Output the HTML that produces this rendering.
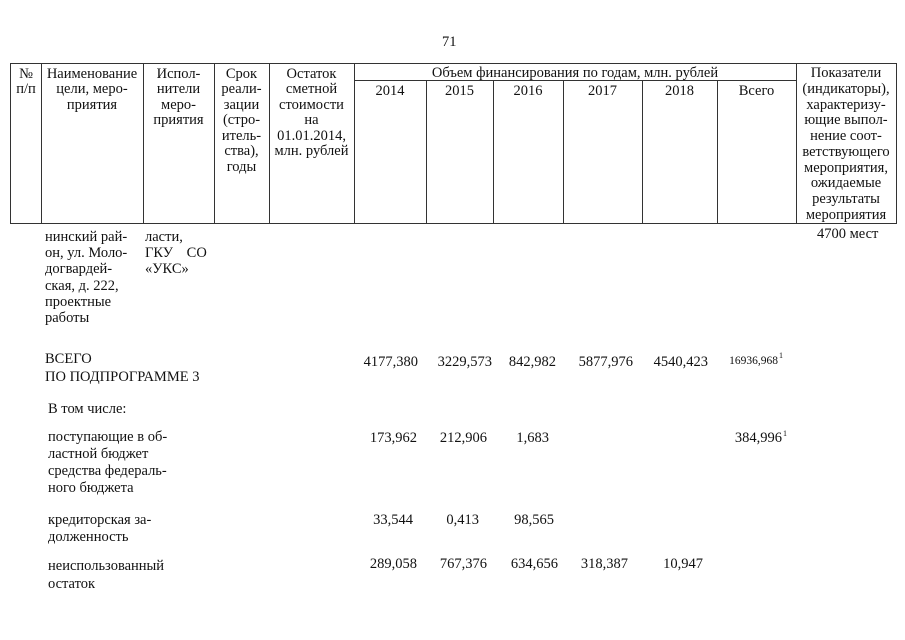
<!DOCTYPE html>
<html>
<head>
<meta charset="utf-8">
<style>
  html, body { margin:0; padding:0; background:#fff; }
  #page { position:relative; width:905px; height:640px; overflow:hidden; background:#fff;
    font-family:"Liberation Serif","Noto Serif CJK SC",serif; font-size:14.5px; color:#111; }
  .h { position:absolute; background:#333; height:1px; }
  .v { position:absolute; background:#333; width:1px; }
  .c { position:absolute; text-align:center; line-height:15.5px; white-space:nowrap; }
  .t { position:absolute; line-height:17px; white-space:nowrap; }
  .n { position:absolute; line-height:17px; white-space:nowrap; text-align:right; }
  .s { font-size:8px; position:relative; top:-6px; margin-left:1px; }
</style>
</head>
<body>
<div id="page">
  <!-- page number -->
  <div class="t" style="left:442px;top:34px;">71</div>

  <!-- table lines -->
  <div class="h" style="left:10px;top:63px;width:887px;"></div>
  <div class="h" style="left:354px;top:80px;width:442px;"></div>
  <div class="h" style="left:10px;top:223px;width:887px;"></div>

  <div class="v" style="left:10px;top:63px;height:161px;"></div>
  <div class="v" style="left:41px;top:63px;height:161px;"></div>
  <div class="v" style="left:143px;top:63px;height:161px;"></div>
  <div class="v" style="left:214px;top:63px;height:161px;"></div>
  <div class="v" style="left:269px;top:63px;height:161px;"></div>
  <div class="v" style="left:354px;top:63px;height:161px;"></div>
  <div class="v" style="left:796px;top:63px;height:161px;"></div>
  <div class="v" style="left:896px;top:63px;height:161px;"></div>

  <div class="v" style="left:426px;top:80px;height:144px;"></div>
  <div class="v" style="left:493px;top:80px;height:144px;"></div>
  <div class="v" style="left:563px;top:80px;height:144px;"></div>
  <div class="v" style="left:642px;top:80px;height:144px;"></div>
  <div class="v" style="left:717px;top:80px;height:144px;"></div>

  <!-- header text -->
  <div class="c" style="left:10px;width:32px;top:66.5px;">№<br>п/п</div>
  <div class="c" style="left:41px;width:102px;top:66.5px;">Наименование<br>цели, меро-<br>приятия</div>
  <div class="c" style="left:143px;width:71px;top:66.5px;">Испол-<br>нители<br>меро-<br>приятия</div>
  <div class="c" style="left:214px;width:55px;top:66.5px;">Срок<br>реали-<br>зации<br>(стро-<br>итель-<br>ства),<br>годы</div>
  <div class="c" style="left:269px;width:85px;top:66.5px;">Остаток<br>сметной<br>стоимости<br>на<br>01.01.2014,<br>млн. рублей</div>

  <div class="c" style="left:354px;width:442px;top:65.5px;">Объем финансирования по годам, млн. рублей</div>
  <div class="c" style="left:354px;width:72px;top:84px;">2014</div>
  <div class="c" style="left:426px;width:67px;top:84px;">2015</div>
  <div class="c" style="left:493px;width:70px;top:84px;">2016</div>
  <div class="c" style="left:563px;width:79px;top:84px;">2017</div>
  <div class="c" style="left:642px;width:75px;top:84px;">2018</div>
  <div class="c" style="left:717px;width:79px;top:84px;">Всего</div>

  <div class="c" style="left:796px;width:100px;top:66px;line-height:15.75px;">Показатели<br>(индикаторы),<br>характеризу-<br>ющие выпол-<br>нение соот-<br>ветствующего<br>мероприятия,<br>ожидаемые<br>результаты<br>мероприятия</div>

  <!-- body -->
  <div class="t" style="left:45px;top:229px;line-height:16.2px;">нинский рай-<br>он, ул. Моло-<br>догвардей-<br>ская, д. 222,<br>проектные<br>работы</div>
  <div class="t" style="left:145px;top:229px;line-height:16.2px;">ласти,<br><span style="word-spacing:10px;">ГКУ СО</span><br>«УКС»</div>
  <div class="t" style="left:817px;top:226px;">4700 мест</div>

  <div class="t" style="left:45px;top:350px;line-height:18px;">ВСЕГО<br>ПО ПОДПРОГРАММЕ 3</div>
  <div class="n" style="right:487px;top:354px;">4177,380</div>
  <div class="n" style="right:413px;top:354px;">3229,573</div>
  <div class="n" style="right:349px;top:354px;">842,982</div>
  <div class="n" style="right:272px;top:354px;">5877,976</div>
  <div class="n" style="right:197px;top:354px;">4540,423</div>
  <div class="n" style="right:122px;top:353px;font-size:11.5px;">16936,968<span class="s">1</span></div>

  <div class="t" style="left:48px;top:401px;">В том числе:</div>

  <div class="t" style="left:48px;top:429px;">поступающие в об-<br>ластной бюджет<br>средства федераль-<br>ного бюджета</div>
  <div class="n" style="right:488px;top:430px;">173,962</div>
  <div class="n" style="right:418px;top:430px;">212,906</div>
  <div class="n" style="right:356px;top:430px;">1,683</div>
  <div class="n" style="right:118px;top:430px;">384,996<span class="s">1</span></div>

  <div class="t" style="left:48px;top:512px;">кредиторская за-<br>долженность</div>
  <div class="n" style="right:492px;top:512px;">33,544</div>
  <div class="n" style="right:426px;top:512px;">0,413</div>
  <div class="n" style="right:351px;top:512px;">98,565</div>

  <div class="t" style="left:48px;top:558px;line-height:17.5px;">неиспользованный<br>остаток</div>
  <div class="n" style="right:488px;top:556px;">289,058</div>
  <div class="n" style="right:418px;top:556px;">767,376</div>
  <div class="n" style="right:347px;top:556px;">634,656</div>
  <div class="n" style="right:277px;top:556px;">318,387</div>
  <div class="n" style="right:202px;top:556px;">10,947</div>
</div>
</body>
</html>
